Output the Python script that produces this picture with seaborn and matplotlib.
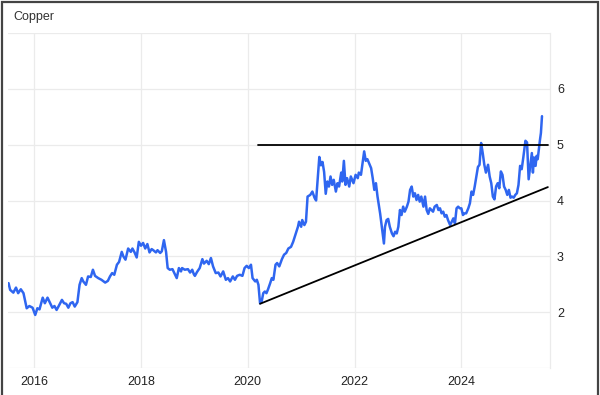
import matplotlib
matplotlib.use("Agg")
import matplotlib.pyplot as plt
import matplotlib.patches as mpatches
import pandas as pd
import seaborn as sns

# copper price (decimal year, USD/lb)
years = [
    2015.52, 2015.55, 2015.61, 2015.66, 2015.70, 2015.75, 2015.80, 2015.86, 2015.91, 2015.97,
    2016.02, 2016.06, 2016.10, 2016.16, 2016.20, 2016.25, 2016.30, 2016.34, 2016.38, 2016.42,
    2016.46, 2016.52, 2016.56, 2016.60, 2016.64, 2016.68, 2016.72, 2016.76, 2016.81, 2016.85,
    2016.89, 2016.92, 2016.97, 2017.01, 2017.06, 2017.10, 2017.14, 2017.20, 2017.26, 2017.33,
    2017.38, 2017.42, 2017.46, 2017.50, 2017.55, 2017.59, 2017.64, 2017.67, 2017.71, 2017.76,
    2017.81, 2017.84, 2017.88, 2017.92, 2017.96, 2018.00, 2018.04, 2018.08, 2018.12, 2018.16,
    2018.20, 2018.23, 2018.28, 2018.31, 2018.36, 2018.39, 2018.43, 2018.47, 2018.50, 2018.54,
    2018.59, 2018.64, 2018.67, 2018.71, 2018.75, 2018.77, 2018.82, 2018.88, 2018.92, 2018.96,
    2018.99, 2019.01, 2019.05, 2019.10, 2019.15, 2019.18, 2019.23, 2019.27, 2019.31, 2019.35,
    2019.40, 2019.45, 2019.49, 2019.54, 2019.59, 2019.63, 2019.67, 2019.72, 2019.76, 2019.80,
    2019.85, 2019.90, 2019.94, 2019.98, 2020.02, 2020.06, 2020.09, 2020.14, 2020.17, 2020.20,
    2020.23, 2020.26, 2020.29, 2020.32, 2020.35, 2020.38, 2020.42, 2020.45, 2020.48, 2020.52,
    2020.55, 2020.59, 2020.64, 2020.68, 2020.72, 2020.76, 2020.81, 2020.85, 2020.90, 2020.94,
    2020.96, 2021.00, 2021.02, 2021.06, 2021.09, 2021.12, 2021.17, 2021.21, 2021.25, 2021.28,
    2021.31, 2021.34, 2021.37, 2021.40, 2021.43, 2021.46, 2021.49, 2021.52, 2021.55, 2021.58,
    2021.61, 2021.65, 2021.68, 2021.71, 2021.75, 2021.77, 2021.80, 2021.83, 2021.86, 2021.90,
    2021.93, 2021.98, 2022.02, 2022.06, 2022.08, 2022.12, 2022.15, 2022.18, 2022.21, 2022.24,
    2022.27, 2022.31, 2022.34, 2022.37, 2022.40, 2022.43, 2022.48, 2022.52, 2022.55, 2022.57,
    2022.60, 2022.63, 2022.66, 2022.70, 2022.73, 2022.76, 2022.79, 2022.82, 2022.85, 2022.88,
    2022.91, 2022.94, 2022.98, 2023.01, 2023.04, 2023.07, 2023.10, 2023.13, 2023.16, 2023.19,
    2023.22, 2023.25, 2023.29, 2023.32, 2023.35, 2023.38, 2023.41, 2023.44, 2023.47, 2023.50,
    2023.54, 2023.57, 2023.60, 2023.63, 2023.66, 2023.69, 2023.72, 2023.75, 2023.79, 2023.82,
    2023.85, 2023.88, 2023.91, 2023.94, 2023.97, 2024.00, 2024.03, 2024.06, 2024.09, 2024.13,
    2024.16, 2024.19, 2024.22, 2024.25, 2024.28, 2024.31, 2024.34, 2024.37, 2024.40, 2024.43,
    2024.46, 2024.50, 2024.53, 2024.56, 2024.59, 2024.62, 2024.65, 2024.68, 2024.71, 2024.74,
    2024.77, 2024.80, 2024.83, 2024.86, 2024.89, 2024.92, 2024.95, 2024.98, 2025.01, 2025.04,
    2025.07, 2025.10, 2025.13, 2025.16, 2025.20, 2025.23, 2025.26, 2025.29, 2025.32, 2025.34,
    2025.36, 2025.39, 2025.41, 2025.43, 2025.45, 2025.47, 2025.49, 2025.51,
]
prices = [
    2.52, 2.40, 2.35, 2.44, 2.34, 2.41, 2.34, 2.07, 2.11, 2.08,
    1.95, 2.07, 2.05, 2.26, 2.16, 2.26, 2.16, 2.08, 2.11, 2.04,
    2.11, 2.22, 2.16, 2.15, 2.08, 2.16, 2.18, 2.10, 2.18, 2.49,
    2.61, 2.55, 2.49, 2.64, 2.63, 2.76, 2.65, 2.61, 2.58, 2.53,
    2.56, 2.64, 2.70, 2.67, 2.85, 2.90, 3.08, 3.00, 2.94, 3.14,
    3.08, 3.14, 3.07, 2.98, 3.26, 3.19, 3.24, 3.14, 3.22, 3.07,
    3.13, 3.11, 3.07, 3.11, 3.06, 3.09, 3.29, 3.08, 2.79, 2.76,
    2.77, 2.67, 2.61, 2.79, 2.73, 2.79, 2.76, 2.77, 2.71, 2.76,
    2.68, 2.65, 2.72, 2.79, 2.95, 2.87, 2.92, 2.86, 2.97, 2.82,
    2.70, 2.71, 2.64, 2.73, 2.58, 2.61, 2.55, 2.64, 2.58, 2.65,
    2.67, 2.65, 2.79, 2.83, 2.79, 2.85, 2.61, 2.55, 2.58, 2.49,
    2.16, 2.19, 2.34, 2.37, 2.34, 2.41, 2.52, 2.61, 2.58, 2.85,
    2.88, 2.82, 2.95, 3.03, 3.06, 3.14, 3.17, 3.26, 3.41, 3.53,
    3.62, 3.53, 3.65, 3.56, 3.62, 4.07, 4.10, 4.16, 4.05, 4.00,
    4.39, 4.78, 4.63, 4.69, 4.51, 4.12, 4.34, 4.25, 4.43, 4.28,
    4.37, 4.16, 4.31, 4.25, 4.50, 4.34, 4.71, 4.28, 4.40, 4.25,
    4.43, 4.31, 4.46, 4.40, 4.50, 4.46, 4.67, 4.88, 4.71, 4.74,
    4.67, 4.58, 4.40, 4.19, 4.31, 4.07, 3.76, 3.46, 3.23, 3.53,
    3.65, 3.67, 3.53, 3.41, 3.36, 3.44, 3.41, 3.53, 3.83, 3.74,
    3.89, 3.80, 3.89, 3.98, 4.19, 4.25, 4.07, 4.13, 4.01, 4.10,
    3.98, 4.07, 3.89, 4.07, 3.83, 3.76, 3.86, 3.83, 3.80, 3.89,
    3.92, 3.83, 3.86, 3.77, 3.80, 3.71, 3.74, 3.65, 3.56, 3.62,
    3.68, 3.59, 3.86, 3.89, 3.86, 3.86, 3.74, 3.77, 3.77, 3.86,
    3.95, 4.16, 4.10, 4.25, 4.43, 4.60, 4.64, 5.03, 4.85, 4.64,
    4.50, 4.64, 4.43, 4.31, 4.07, 4.02, 4.25, 4.31, 4.22, 4.52,
    4.46, 4.25, 4.19, 4.10, 4.19, 4.05, 4.07, 4.05, 4.10, 4.13,
    4.28, 4.62, 4.56, 4.77, 5.07, 5.04, 4.38, 4.62, 4.85, 4.50,
    4.77, 4.62, 4.80, 4.74, 4.91, 5.07, 5.21, 5.51,
]

# drawn annotation lines
resist_x = [2020.20, 2025.62]
resist_y = [5.0, 5.0]
trend_x = [2020.23, 2025.62]
trend_y = [2.15, 4.24]

x_ticks = [2016, 2018, 2020, 2022, 2024]
y_ticks = [2, 3, 4, 5, 6]

sns.set_style("white")
plt.rcParams['font.family'] = ['Liberation Sans', 'DejaVu Sans']

df = pd.DataFrame({'year': years, 'price': prices})

fig = plt.figure(figsize=(6, 3.95), dpi=100)
ax = fig.add_axes([8 / 600, 27 / 395, 542 / 600, 335 / 395])

sns.lineplot(data=df, x='year', y='price', ax=ax, color='#2f66f0', linewidth=1.8)
ax.plot(resist_x, resist_y, color='black', linewidth=1.3)
ax.plot(trend_x, trend_y, color='black', linewidth=1.3)

ax.set_xlim(2015.51, 2025.66)
ax.set_ylim(1, 7)
ax.set_xticks(x_ticks)
ax.set_xticklabels([str(t) for t in x_ticks])
ax.set_yticks([1, 2, 3, 4, 5, 6, 7])
ax.set_yticklabels(['' if t not in y_ticks else str(t) for t in [1, 2, 3, 4, 5, 6, 7]])
ax.yaxis.tick_right()
ax.grid(True, color='#ebebeb', linewidth=0.9)
ax.tick_params(axis='both', length=0, labelsize=9, colors='#222222')
ax.tick_params(axis='y', pad=5)
ax.tick_params(axis='x', pad=6)
ax.set_xlabel('')
ax.set_ylabel('')
for side in ['left', 'top', 'bottom']:
    ax.spines[side].set_visible(False)
ax.spines['right'].set_color('#ebebeb')
ax.spines['right'].set_linewidth(0.9)

fig.text(13 / 600, 1 - 17 / 395, 'Copper', fontsize=9, color='#333333', va='center', ha='left')

# dark frame around the whole picture
fig.patches.append(mpatches.Rectangle((0.004, -0.01), 0.992, 1.006, transform=fig.transFigure,
                                      fill=False, edgecolor='#444444', linewidth=1.6))

fig.savefig('out.png', dpi=100)
